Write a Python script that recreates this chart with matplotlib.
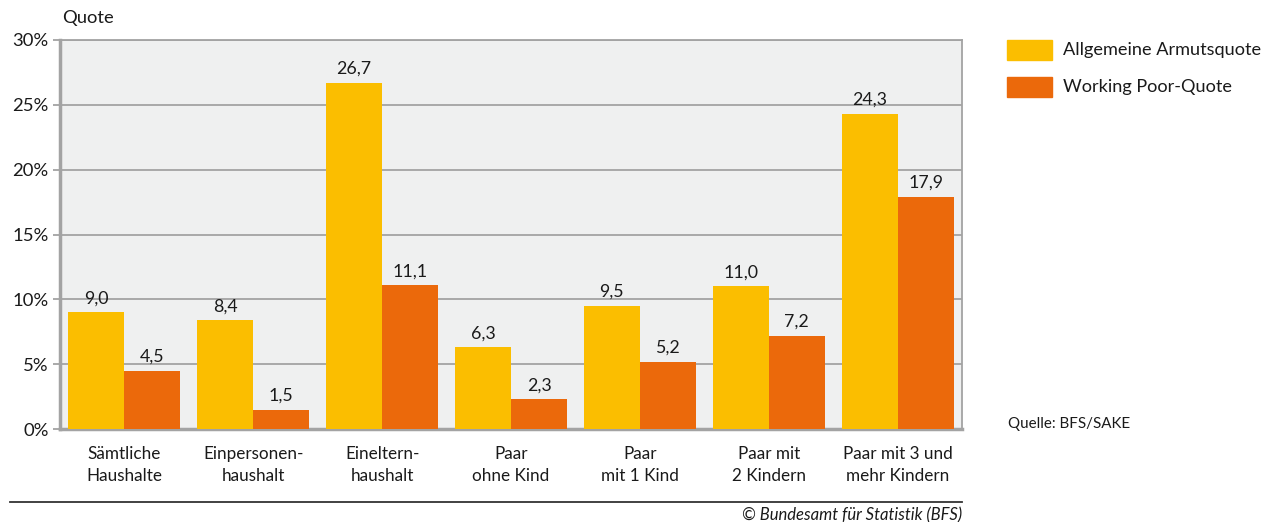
import numpy as np
import matplotlib
matplotlib.use("Agg")
import matplotlib.pyplot as plt
from matplotlib.patches import Rectangle

plt.rcParams['font.family'] = ['Lato', 'DejaVu Sans']

# data
categories = ["Sämtliche\nHaushalte", "Einpersonen-\nhaushalt", "Eineltern-\nhaushalt",
              "Paar\nohne Kind", "Paar\nmit 1 Kind", "Paar mit\n2 Kindern",
              "Paar mit 3 und\nmehr Kindern"]
armut = [9.0, 8.4, 26.7, 6.3, 9.5, 11.0, 24.3]
working_poor = [4.5, 1.5, 11.1, 2.3, 5.2, 7.2, 17.9]
series_names = ["Allgemeine Armutsquote", "Working Poor-Quote"]
yticks = [0, 5, 10, 15, 20, 25, 30]

yellow = "#FBBE00"
orange = "#EB690B"
grid_col = "#A3A3A3"

fig = plt.figure(figsize=(12.63, 5.22), dpi=100)
ax = fig.add_axes([60 / 1263, 1 - 429 / 522, (962 - 60) / 1263, (429 - 40) / 522])
ax.set_facecolor("#EFF0F0")

x = np.arange(len(categories))
w = 0.435
b1 = ax.bar(x - w / 2, armut, w, color=yellow, zorder=3)
b2 = ax.bar(x + w / 2, working_poor, w, color=orange, zorder=3)

def fmt(v):
    return ("%.1f" % v).replace(".", ",")

for bars, vals in ((b1, armut), (b2, working_poor)):
    for r, v in zip(bars, vals):
        ax.text(r.get_x() + r.get_width() / 2, v + 0.45, fmt(v), ha="center",
                va="bottom", fontsize=12.8, color="#1a1a1a", zorder=4)

ax.set_xlim(-0.5, len(categories) - 0.5)
ax.set_ylim(0, 30)
ax.set_yticks(yticks)
ax.set_yticklabels(["%d%%" % t for t in yticks], fontsize=13.3, color="#1a1a1a")
ax.yaxis.grid(True, color=grid_col, linewidth=1.3, zorder=1)
ax.tick_params(axis="y", length=5, width=1.3, color=grid_col, pad=3)
ax.set_xticks(x)
ax.set_xticklabels(categories, fontsize=12.3, color="#1a1a1a", linespacing=1.45)
ax.tick_params(axis="x", length=0, pad=12)
for s in ax.spines.values():
    s.set_color(grid_col)
    s.set_linewidth(1.3)
ax.spines["left"].set_linewidth(2.5)
ax.spines["bottom"].set_linewidth(2.5)

fig.text(62 / 1263, 1 - 18 / 522, "Quote", fontsize=13.2, va="center", ha="left",
         color="#1a1a1a")

# legend
for i, (name, col) in enumerate(zip(series_names, [yellow, orange])):
    y0 = 1 - (60 + i * 37) / 522
    fig.patches.append(Rectangle((1007 / 1263, y0), 45 / 1263, 20 / 522,
                                 transform=fig.transFigure, color=col))
    fig.text(1063 / 1263, y0 + 10 / 522, name, fontsize=13.1, va="center",
             ha="left", color="#1a1a1a")

fig.text(1008 / 1263, 1 - 424 / 522, "Quelle: BFS/SAKE", fontsize=10.9,
         va="center", ha="left", color="#1a1a1a")

fig.add_artist(plt.Line2D([10 / 1263, 962 / 1263], [1 - 502 / 522, 1 - 502 / 522],
                          transform=fig.transFigure, color="#333333", linewidth=1.3))
fig.text(962 / 1263, 1 - 515 / 522, "© Bundesamt für Statistik (BFS)", fontsize=12,
         style="italic", va="center", ha="right", color="#1a1a1a")

fig.savefig("out.png", dpi=100)
